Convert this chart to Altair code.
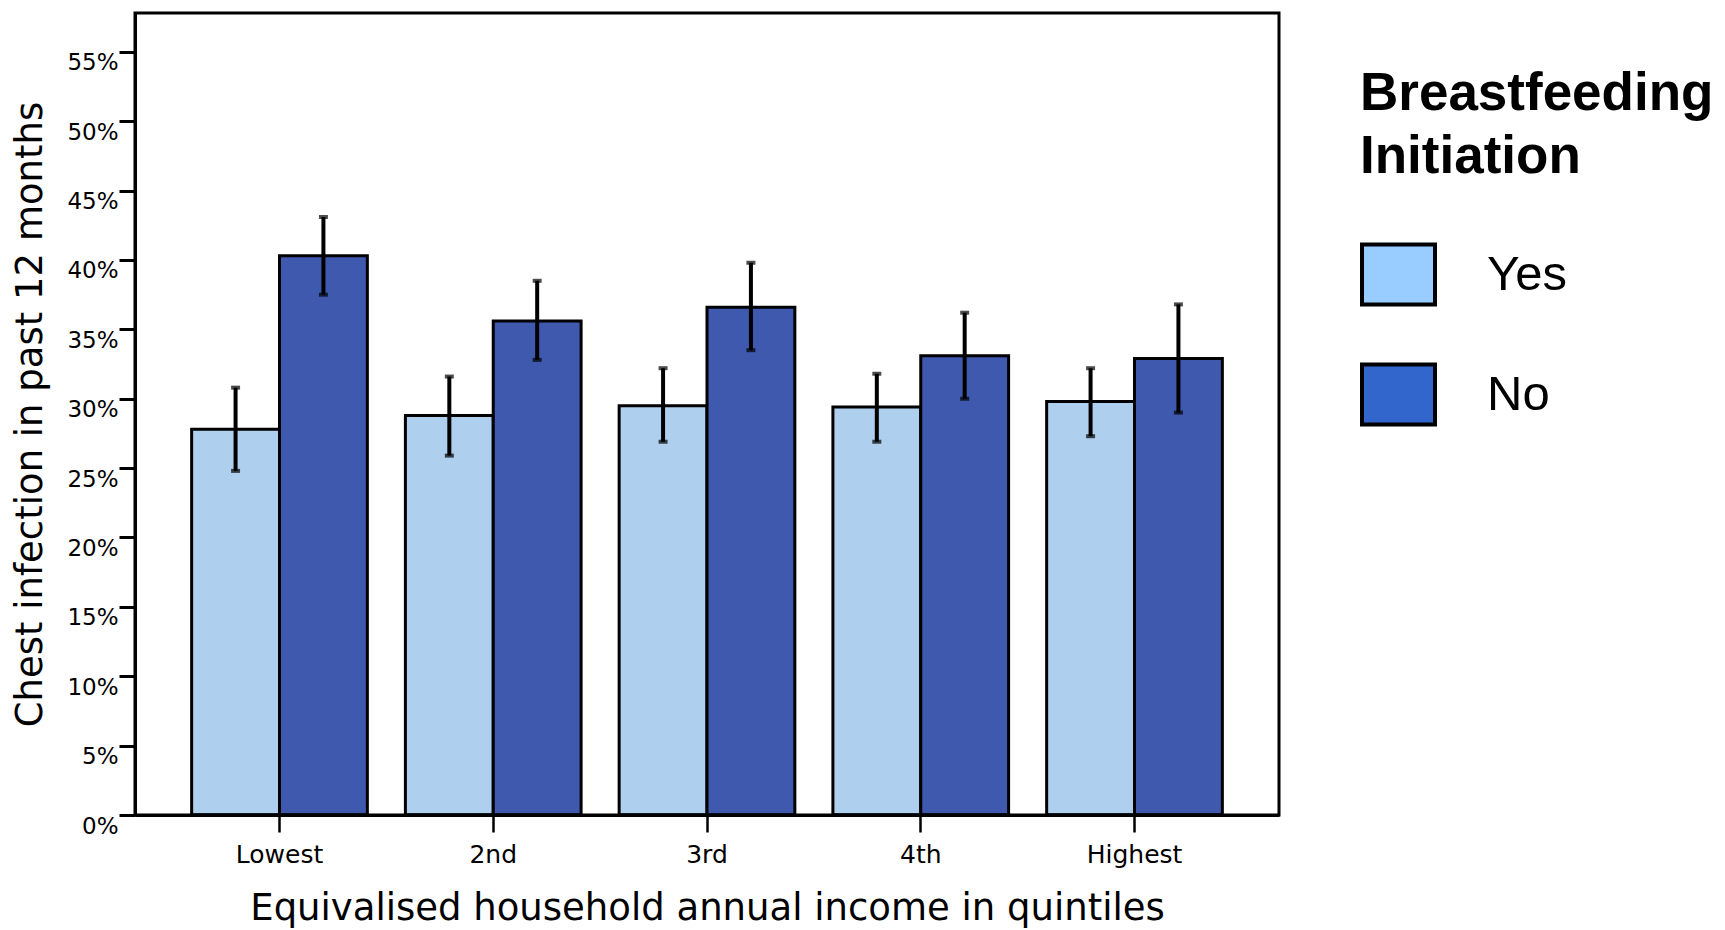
import altair as alt
import pandas as pd

quintiles = ["Lowest", "2nd", "3rd", "4th", "Highest"]
groups = ["Yes", "No"]
yes_pct = [27.8, 28.8, 29.5, 29.4, 29.8]
yes_lo = [24.8, 25.9, 26.9, 26.9, 27.3]
yes_hi = [30.8, 31.6, 32.2, 31.8, 32.2]
no_pct = [40.3, 35.6, 36.6, 33.1, 32.9]
no_lo = [37.5, 32.8, 33.5, 30.0, 29.0]
no_hi = [43.1, 38.5, 39.8, 36.2, 36.8]
y_ticks = [0.0, 0.025, 0.05, 0.075, 0.10, 0.125, 0.15, 0.175, 0.20, 0.225,
           0.25, 0.275, 0.30, 0.325, 0.35, 0.375, 0.40, 0.425, 0.45, 0.475,
           0.50, 0.525, 0.55, 0.575]

bar_colors = ["#AECFEE", "#3E59AD"]
legend_colors = ["#99CCFF", "#3366CC"]

rows = []
for i, q in enumerate(quintiles):
    rows.append({"quintile": q, "bf": "Yes", "pct": yes_pct[i] / 100,
                 "lo": yes_lo[i] / 100, "hi": yes_hi[i] / 100})
    rows.append({"quintile": q, "bf": "No", "pct": no_pct[i] / 100,
                 "lo": no_lo[i] / 100, "hi": no_hi[i] / 100})
df = pd.DataFrame(rows)

ytitle = "Chest infection in past 12 months"
yscale = alt.Scale(domain=[0, 0.578], nice=False, zero=True)
major = "round(datum.value*1000) % 50 == 0"

base = alt.Chart(df).encode(
    x=alt.X("quintile:N", sort=quintiles,
            scale=alt.Scale(paddingInner=0.178, paddingOuter=0.265),
            axis=alt.Axis(title="Equivalised household annual income in quintiles",
                          labelAngle=0, labelFont="DejaVu Sans", labelFontSize=25,
                          tickSize=17, tickWidth=2.5, labelPadding=10,
                          titleFont="DejaVu Sans", titleFontSize=37,
                          titleFontWeight="normal", titlePadding=23)),
    xOffset=alt.XOffset("bf:N", sort=groups,
                        scale=alt.Scale(paddingInner=0, paddingOuter=0)),
)

bars = base.mark_bar(stroke="black", strokeWidth=3).encode(
    y=alt.Y("pct:Q", scale=yscale, title=ytitle,
            axis=alt.Axis(values=y_ticks, format=".0%", labelExpr=f"{major} ? datum.label : ''",
                          tickSize={"condition": {"test": major, "value": 16}, "value": 8},
                          tickWidth=3, labelFont="DejaVu Sans", labelFontSize=23,
                          labelBaseline="top", labelPadding=1,
                          titleFont="DejaVu Sans", titleFontSize=37,
                          titleFontWeight="normal", titlePadding=17)),
    color=alt.Color("bf:N", sort=groups,
                    scale=alt.Scale(domain=groups, range=bar_colors), legend=None),
)

legend_layer = base.mark_bar(stroke="black", strokeWidth=3.5).encode(
    y=alt.YDatum(0, type="quantitative", scale=yscale, title=ytitle),
    color=alt.Color("bf:N", sort=groups,
                    scale=alt.Scale(domain=groups, range=legend_colors),
                    legend=alt.Legend(
                        title=["Breastfeeding", "Initiation"],
                        orient="none", legendX=1225, legendY=55, padding=0,
                        titleFont="Liberation Sans", titleFontSize=53,
                        titleFontWeight="bold", titleLineHeight=63,
                        titlePadding=52, titleColor="black", titleLimit=800,
                        labelFont="Liberation Sans", labelFontSize=49,
                        labelColor="black", labelOffset=50, labelLimit=400,
                        symbolType="M-1,-0.82H1V0.82H-1Z", symbolSize=5329,
                        symbolStrokeColor="black", symbolStrokeWidth=4,
                        rowPadding=43)),
)

rules = base.mark_rule(color="black", strokeWidth=4).encode(
    y=alt.Y("lo:Q", scale=yscale, title=ytitle), y2="hi:Q")
caps_hi = base.mark_tick(color="black", size=9, thickness=4).encode(
    y=alt.Y("hi:Q", scale=yscale, title=ytitle))
caps_lo = base.mark_tick(color="black", size=9, thickness=4).encode(
    y=alt.Y("lo:Q", scale=yscale, title=ytitle))

chart = alt.layer(bars, legend_layer, rules, caps_lo, caps_hi).resolve_scale(
    color="independent"
).properties(
    width=1144, height=802,
    autosize=alt.AutoSizeParams(type="none"),
    padding={"left": 127, "top": 5, "right": 436, "bottom": 115},
).configure_view(
    stroke="black", strokeWidth=3
).configure_axis(
    domainColor="black", domainWidth=3, tickColor="black",
    labelColor="black", titleColor="black", grid=False
)

chart.save("out.html", embed_options={"renderer": "svg", "actions": False})
